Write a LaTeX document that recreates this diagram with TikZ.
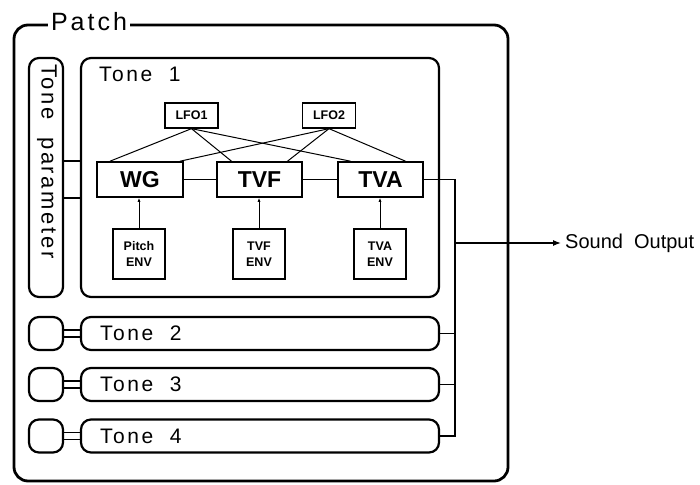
\documentclass[tikz,border=0pt]{standalone}
\usepackage{fontspec}
\setmainfont{Liberation Sans}
\newfontfamily\spacedfont[LetterSpace=12]{Liberation Sans}
\usepackage{tikz}
\usetikzlibrary{arrows.meta,positioning,calc}

\begin{document}
\begin{tikzpicture}[
    x=1pt, y=-1pt,
    >=Latex,
    frame/.style={draw, line width=2.2pt, rounded corners=10pt, inner sep=0pt},
    block/.style={draw, line width=1.6pt, inner sep=0pt, font=\fontsize{23}{25}\selectfont\bfseries},
    lfo/.style={draw, line width=1.3pt, inner sep=0pt, minimum width=53pt, minimum height=25pt, font=\fontsize{12.5}{14}\selectfont\bfseries},
    env/.style={draw, line width=1.3pt, inner sep=0pt, minimum width=52pt, minimum height=50pt, align=center, font=\fontsize{12.5}{16}\selectfont\bfseries},
    title/.style={inner sep=0pt, font=\fontsize{21}{24}\spacedfont},
    wire/.style={line width=1pt},
    bus/.style={line width=1.6pt}
]
\useasboundingbox (0,0) rectangle (700,484);

% patch frame and its label
\node[frame, line width=2.8pt, rounded corners=14pt, minimum width=494pt, minimum height=456pt] (patch) at (261,253) {};
\node[title, fill=white, inner xsep=3pt, font=\fontsize{25}{28}\spacedfont] (patchlbl) at (89,22) {Patch};

% tone parameter column
\node[frame, minimum width=34pt, minimum height=239pt] (tonepar) at (46,177.5) {};
\node[title, rotate=-90, anchor=west, font=\fontsize{22}{24}\spacedfont] (parlbl) at ($(tonepar.north)+(1,7)$) {Tone\ \ parameter};

% tone 1 with its blocks
\node[frame, minimum width=358pt, minimum height=239pt] (tone1) at (260,177.5) {};
\node[title, anchor=base west] (t1lbl) at ($(tone1.north west)+(19,25)$) {Tone\ \ 1};

\node[lfo] (lfo1) at (191.5,115.5) {LFO1};
\node[lfo] (lfo2) at (329,115.5) {LFO2};

\node[block, minimum width=86pt, minimum height=35pt] (wg) at (140,179.5) {WG};
\node[block, minimum width=85pt, minimum height=35pt] (tvf) at (259.5,179.5) {TVF};
\node[block, minimum width=85pt, minimum height=35pt] (tva) at (380.5,179.5) {TVA};

\node[env] (penv) at (139,254) {Pitch\\ENV};
\node[env] (fenv) at (259,254) {TVF\\ENV};
\node[env] (aenv) at (380,254) {TVA\\ENV};

\draw[wire] (lfo1.south) -- ([xshift=-30pt]wg.north);
\draw[wire] (lfo1.south) -- ([xshift=-28pt]tvf.north);
\draw[wire] (lfo1.south) -- ([xshift=-30pt]tva.north);
\draw[wire] (lfo2.south) -- ([xshift=40pt]wg.north);
\draw[wire] (lfo2.south) -- ([xshift=28pt]tvf.north);
\draw[wire] (lfo2.south) -- ([xshift=25pt]tva.north);

\draw[wire] (wg) -- (tvf);
\draw[wire] (tvf) -- (tva);

\draw[wire, -{Latex[length=4pt,width=3pt]}] (penv.north) -- (penv.north |- wg.south);
\draw[wire, -{Latex[length=4pt,width=3pt]}] (fenv.north) -- (fenv.north |- tvf.south);
\draw[wire, -{Latex[length=4pt,width=3pt]}] (aenv.north) -- (aenv.north |- tva.south);

% link from the parameter column into tone 1
\draw[bus] (tonepar.east |- wg.north) -- (tone1.west |- wg.north);
\draw[bus] (tonepar.east |- wg.south) -- (tone1.west |- wg.south);

% tones 2 to 4
\node[frame, minimum width=358pt, minimum height=33pt] (tone2) at (260,333.5) {};
\node[frame, minimum width=34pt, minimum height=33pt] (sel2) at (46,333.5) {};
\node[title, anchor=west] (t2lbl) at ($(tone2.west)+(20,0)$) {Tone\ \ 2};

\node[frame, minimum width=358pt, minimum height=33pt] (tone3) at (260,384.5) {};
\node[frame, minimum width=34pt, minimum height=33pt] (sel3) at (46,384.5) {};
\node[title, anchor=west] (t3lbl) at ($(tone3.west)+(20,0)$) {Tone\ \ 3};

\node[frame, minimum width=358pt, minimum height=33pt] (tone4) at (260,436) {};
\node[frame, minimum width=34pt, minimum height=33pt] (sel4) at (46,436) {};
\node[title, anchor=west] (t4lbl) at ($(tone4.west)+(20,0)$) {Tone\ \ 4};

\draw[bus] ([yshift=3.5pt]sel2.east) -- ([yshift=3.5pt]tone2.west);
\draw[bus] ([yshift=-3.5pt]sel2.east) -- ([yshift=-3.5pt]tone2.west);
\draw[bus] ([yshift=3.5pt]sel3.east) -- ([yshift=3.5pt]tone3.west);
\draw[bus] ([yshift=-3.5pt]sel3.east) -- ([yshift=-3.5pt]tone3.west);
\draw[bus] ([yshift=3.5pt]sel4.east) -- ([yshift=3.5pt]tone4.west);
\draw[bus] ([yshift=-3.5pt]sel4.east) -- ([yshift=-3.5pt]tone4.west);

% output bus
\coordinate (busx) at (455,0);
\draw[bus] (tva.east) -- (tva.east -| busx) -- (tone4.east -| busx) -- (tone4.east);
\draw[bus] (tone2.east) -- (tone2.east -| busx);
\draw[bus] (tone3.east) -- (tone3.east -| busx);

\node[inner sep=0pt, anchor=west, font=\fontsize{20}{24}\selectfont] (sound) at (565,243) {Sound\ \ Output};
\draw[line width=1.3pt, -{Latex[length=8pt,width=6pt]}] (sound.west -| busx) -- ([xshift=-4pt]sound.west);
\end{tikzpicture}
\end{document}
